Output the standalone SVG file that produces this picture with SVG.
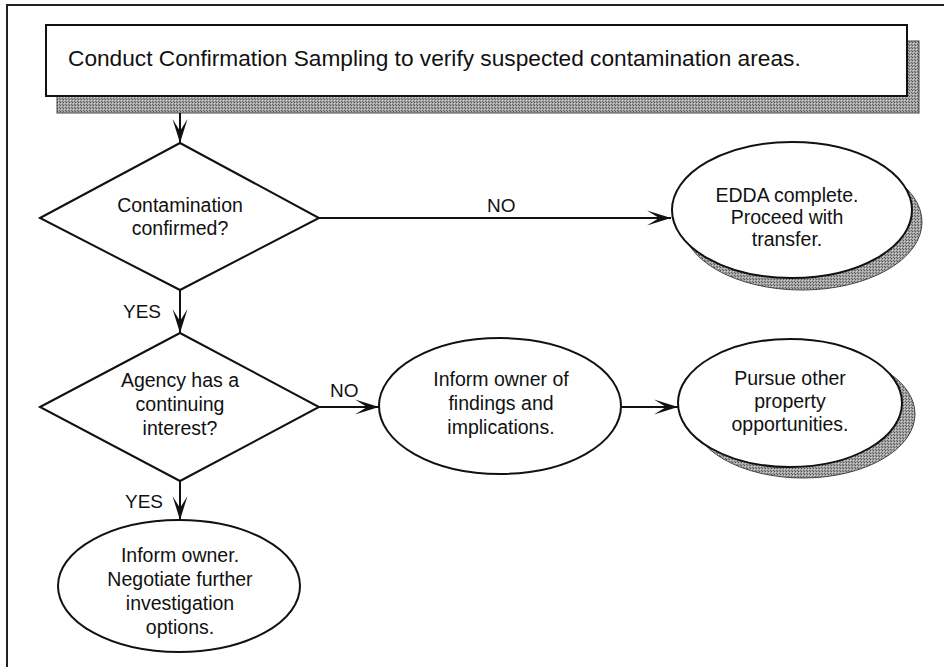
<svg xmlns="http://www.w3.org/2000/svg" width="944" height="667" viewBox="0 0 944 667">
<style>
  .t{font-family:"Liberation Sans",Arial,Helvetica,sans-serif;font-size:19.5px;fill:#111;text-anchor:middle}
  .lbl{font-family:"Liberation Sans",Arial,Helvetica,sans-serif;font-size:19px;fill:#111}
  .shape{fill:#fff;stroke:#111;stroke-width:2}
  .shadow{fill:url(#hatch);stroke:#444;stroke-width:1}
  .conn{fill:none;stroke:#111;stroke-width:2}
</style>
<defs>
  <pattern id="hatch" width="3" height="3" patternUnits="userSpaceOnUse">
    <rect width="3" height="3" fill="#a4a4a4"/>
    <rect width="1" height="1" fill="#555"/>
    <rect x="2" y="2" width="1" height="1" fill="#666"/>
    <rect x="1" y="1" width="1" height="1" fill="#d0d0d0"/>
  </pattern>
  <marker id="arr" markerUnits="userSpaceOnUse" markerWidth="28" markerHeight="18" viewBox="-26 -9 28 18" refX="0" refY="0" orient="auto">
    <path d="M0,0 L-24,-7.5 L-12,0 L-24,7.5 Z" fill="#111"/>
  </marker>
</defs>
<rect width="944" height="667" fill="#fff"/>
<g id="frame">
  <path d="M7,667 V5 H944" fill="none" stroke="#222" stroke-width="2"/>
</g>
<g id="n-start">
  <rect x="57" y="41" width="862" height="72" class="shadow"/>
  <rect x="46" y="25" width="861" height="71" class="shape" stroke-width="2.5"/>
  <text x="68" y="66" class="lbl" style="font-size:22.7px">Conduct Confirmation Sampling to verify suspected contamination areas.</text>
</g>
<g id="n-contam">
  <polygon points="40,218 180,143 319,218 180,290" class="shape"/>
  <text class="t" x="180" y="212">Contamination</text>
  <text class="t" x="180" y="235">confirmed?</text>
</g>
<g id="n-edda">
  <ellipse cx="802" cy="222" rx="120" ry="68" class="shadow"/>
  <ellipse cx="792" cy="210" rx="120" ry="68" class="shape"/>
  <text class="t" x="787" y="202">EDDA complete.</text>
  <text class="t" x="787" y="224">Proceed with</text>
  <text class="t" x="787" y="246">transfer.</text>
</g>
<g id="n-agency">
  <polygon points="40,407 180,333 319,407 180,481" class="shape"/>
  <text class="t" x="180" y="387">Agency has a</text>
  <text class="t" x="180" y="411">continuing</text>
  <text class="t" x="180" y="435">interest?</text>
</g>
<g id="n-inform">
  <ellipse cx="500" cy="406" rx="121" ry="68" class="shape"/>
  <text class="t" x="501" y="386">Inform owner of</text>
  <text class="t" x="501" y="410">findings and</text>
  <text class="t" x="501" y="434">implications.</text>
</g>
<g id="n-pursue">
  <ellipse cx="803" cy="414" rx="112" ry="64" class="shadow"/>
  <ellipse cx="790" cy="403" rx="112" ry="64" class="shape"/>
  <text class="t" x="790" y="385">Pursue other</text>
  <text class="t" x="790" y="408">property</text>
  <text class="t" x="790" y="431">opportunities.</text>
</g>
<g id="n-negotiate">
  <ellipse cx="179" cy="586" rx="121" ry="66" class="shape"/>
  <text class="t" x="180" y="562">Inform owner.</text>
  <text class="t" x="180" y="586">Negotiate further</text>
  <text class="t" x="180" y="610">investigation</text>
  <text class="t" x="180" y="634">options.</text>
</g>
<g id="connectors">
  <line x1="180" y1="113" x2="180" y2="143" class="conn" marker-end="url(#arr)"/>
  <line x1="319" y1="218" x2="671" y2="218" class="conn" marker-end="url(#arr)"/>
  <line x1="180" y1="290" x2="180" y2="333" class="conn" marker-end="url(#arr)"/>
  <line x1="319" y1="407" x2="379" y2="407" class="conn" marker-end="url(#arr)"/>
  <line x1="621" y1="407" x2="678" y2="407" class="conn" marker-end="url(#arr)"/>
  <line x1="180" y1="481" x2="180" y2="520" class="conn" marker-end="url(#arr)"/>
  <text class="lbl" x="487" y="212">NO</text>
  <text class="lbl" x="123" y="318">YES</text>
  <text class="lbl" x="330" y="397">NO</text>
  <text class="lbl" x="125" y="508">YES</text>
</g>
</svg>
